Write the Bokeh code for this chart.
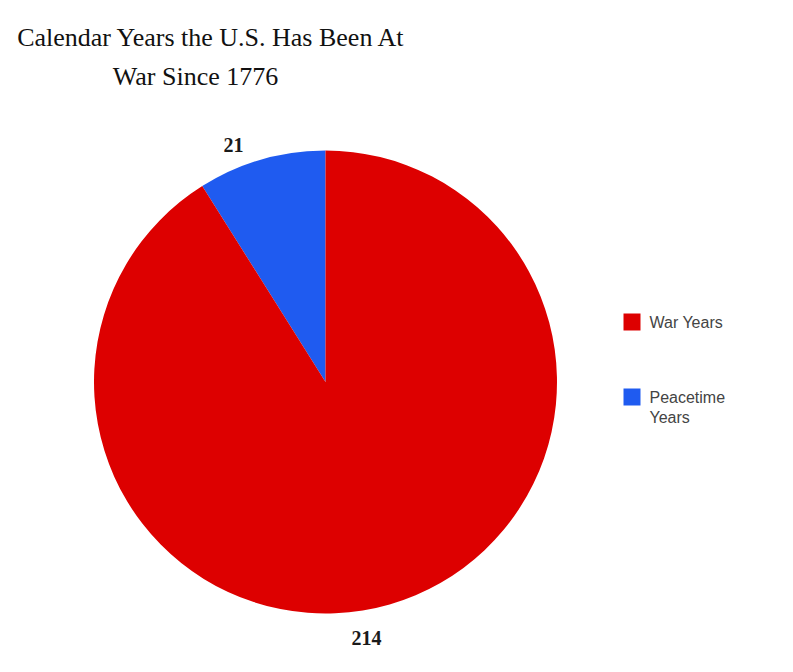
import math
from bokeh.plotting import figure
from bokeh.models import Range1d
from bokeh.embed import file_html
from bokeh.resources import INLINE
from bokeh.core.properties import value

# ---- data ----
categories = ["War Years", "Peacetime Years"]
years = [214, 21]
colors = ["#dd0000", "#1f5bf0"]
title_lines = ["Calendar Years the U.S. Has Been At", "War Since 1776"]

# ---- layout ----
W, H = 793, 672


def X(px):
    return px


def Y(py):
    return H - py


p = figure(width=W, height=H, x_range=Range1d(0, W), y_range=Range1d(0, H),
           output_backend="svg", toolbar_location=None, min_border=0,
           x_axis_location=None, y_axis_location=None)
p.grid.visible = False
p.outline_line_color = None
p.background_fill_color = "white"
p.border_fill_color = "white"

# ---- pie: starts at 12 o'clock, peacetime counter-clockwise, war the rest ----
cx, cy, r = X(325), Y(381.5), 231.5
total = sum(years)
peace_i = categories.index("Peacetime Years")
war_i = categories.index("War Years")
a0 = math.pi / 2
a1 = a0 + 2 * math.pi * years[peace_i] / total
a2 = a1 + 2 * math.pi * years[war_i] / total
p.wedge(x=[cx, cx], y=[cy, cy], radius=r, radius_units="screen",
        start_angle=[a0, a1], end_angle=[a1, a2],
        fill_color=[colors[peace_i], colors[war_i]], line_color=None)

# ---- value labels ----
label_pos = {"Peacetime Years": (233, 144), "War Years": (366, 637)}
for cat, val in zip(categories, years):
    lx, ly = label_pos[cat]
    p.text(x=[X(lx)], y=[Y(ly)], text=[str(val)], text_align="center",
           text_baseline="alphabetic", text_font=value("Liberation Serif"),
           text_font_style="bold", text_font_size="20px", text_color="#1a1a1a")

# ---- title ----
title_pos = [(211, 37), (195, 76)]
for line, (tx, ty) in zip(title_lines, title_pos):
    p.text(x=[X(tx)], y=[Y(ty)], text=[line], text_align="center",
           text_baseline="alphabetic", text_font=value("Liberation Serif"),
           text_font_size="26px", text_color="#111111")

# ---- legend ----
legend_base = [322, 397]
for i, (cat, col) in enumerate(zip(categories, colors)):
    base = legend_base[i]
    p.rect(x=[X(631.5)], y=[Y(321.5 + 75 * i)], width=17, height=17,
           width_units="screen", height_units="screen",
           fill_color=col, line_color=None)
    words = cat.split(" ")
    lines = [cat] if len(cat) <= 10 else [" ".join(words[:-1]), words[-1]]
    for j, ln in enumerate(lines):
        p.text(x=[X(649)], y=[Y(base + 20 * j)], text=[ln], text_align="left",
               text_baseline="alphabetic", text_font=value("Liberation Sans"),
               text_font_size="16px", text_color="#444444")

open("out.html", "w").write(file_html(p, INLINE))
